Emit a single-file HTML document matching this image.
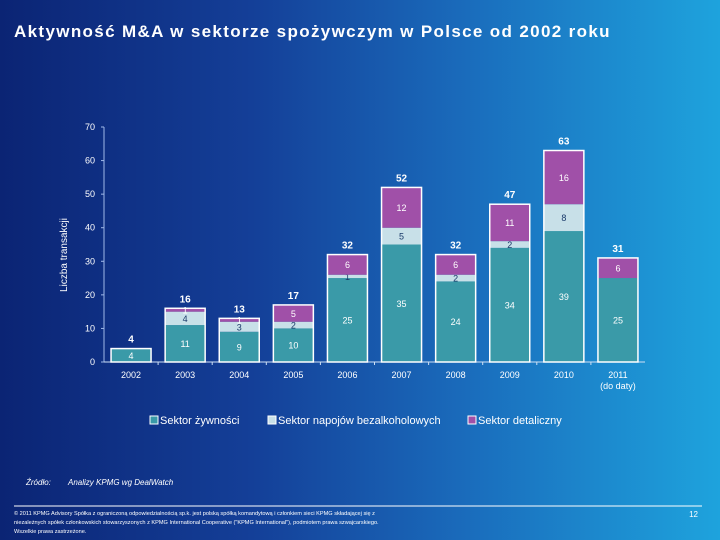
<!DOCTYPE html>
<html><head><meta charset="utf-8"><style>
body{margin:0;width:720px;height:540px;overflow:hidden;font-family:"Liberation Sans",sans-serif;}
#bg{position:absolute;left:0;top:0;width:720px;height:540px;background:linear-gradient(90deg,#0b2474 0%,#143f98 35%,#1a6cbc 65%,#1ea3dd 100%);}
</style></head><body>
<div id="bg"></div>
<svg id="chart" width="720" height="540" style="position:absolute;left:0;top:0">
<text x="14" y="37" fill="#fff" font-size="17" font-weight="bold" letter-spacing="1.35">Aktywność M&amp;A w sektorze spożywczym w Polsce od 2002 roku</text>
<text transform="translate(67,255) rotate(-90)" text-anchor="middle" fill="#fff" font-size="10">Liczba transakcji</text>
<g id="axes"></g><g id="bars"></g>
<g font-size="11" fill="#fff">
<rect x="150" y="416" width="8" height="8" fill="#3a9aa8" stroke="#fff" stroke-width="1"/>
<text x="160" y="424" fill="#fff">Sektor żywności</text>
<rect x="268" y="416" width="8" height="8" fill="#c8e0e8" stroke="#fff" stroke-width="1"/>
<text x="278" y="424" fill="#fff">Sektor napojów bezalkoholowych</text>
<rect x="468" y="416" width="8" height="8" fill="#a050a8" stroke="#fff" stroke-width="1"/>
<text x="478" y="424" fill="#fff">Sektor detaliczny</text>
</g>
<text x="26" y="485" fill="#fff" font-size="8" font-style="italic">Źródło:</text>
<text x="68" y="485" fill="#fff" font-size="8" font-style="italic">Analizy KPMG wg DealWatch</text>
<line x1="14" y1="506" x2="702" y2="506" stroke="#fff" stroke-width="1"/>
<g fill="#fff" font-size="5.6">
<text x="14" y="515">© 2011 KPMG Advisory Spółka z ograniczoną odpowiedzialnością sp.k. jest polską spółką komandytową i członkiem sieci KPMG składającej się z</text>
<text x="14" y="524">niezależnych spółek członkowskich stowarzyszonych z KPMG International Cooperative ("KPMG International"), podmiotem prawa szwajcarskiego.</text>
<text x="14" y="533">Wszelkie prawa zastrzeżone.</text>
</g>
<text x="698" y="517" fill="#fff" font-size="8" text-anchor="end">12</text>
</svg>
<script>
const categories=["2002","2003","2004","2005","2006","2007","2008","2009","2010","2011"];
const food=[4,11,9,10,25,35,24,34,39,25];
const beverages=[0,4,3,2,1,5,2,2,8,0];
const retail=[0,1,1,5,6,12,6,11,16,6];
const totals=[4,16,13,17,32,52,32,47,63,31];
const yTicks=[0,10,20,30,40,50,60,70];
const NS="http://www.w3.org/2000/svg";
const x0=104,x1=645,y0=362,yTop=127,yMax=70;
const band=(x1-x0)/categories.length;
const xC=i=>x0+band*(i+0.5);
const y=v=>y0-(v/yMax)*(y0-yTop);
const axes=document.getElementById('axes'),bars=document.getElementById('bars');
function mk(tag,attrs,parent,txt){const e=document.createElementNS(NS,tag);for(const k in attrs)e.setAttribute(k,attrs[k]);if(txt!==undefined)e.textContent=txt;parent.appendChild(e);return e;}
let e=mk('line',{x1:x0,y1:yTop,x2:x0,y2:y0,stroke:'#9fb8e8','stroke-width':1},axes);


e=mk('line',{x1:x0,y1:y0,x2:x1,y2:y0,stroke:'#cfe0f5','stroke-width':1},axes);


yTicks.forEach(t=>{
  mk('line',{x1:x0-3,y1:y(t),x2:x0,y2:y(t),stroke:'#9fb8e8'},axes);
  const l=mk('text',{x:x0-9,y:y(t)+3,fill:'#fff','font-size':9,'text-anchor':'end'},axes,String(t));
  
  
});
categories.forEach((c,i)=>{
  if(i>0) mk('line',{x1:x0+band*i,y1:y0,x2:x0+band*i,y2:y0+3,stroke:'#cfe0f5'},axes);
  const l=mk('text',{x:xC(i),y:y0+16,fill:'#fff','font-size':9,'text-anchor':'middle'},axes,c);
  
  
  if(i===categories.length-1){const l2=mk('text',{x:xC(i),y:y0+27,fill:'#fff','font-size':9,'text-anchor':'middle'},axes,'(do daty)');
  
  }
  const w=40,bx=xC(i)-w/2;
  const segs=[[food[i],'#3a9aa8','#fff','food'],[beverages[i],'#c8e0e8','#1a3a6a','beverages'],[retail[i],'#a050a8','#fff','retail']];
  let base=0;
  segs.forEach(([v,col,tc,nm])=>{
    if(v<=0)return;
    const r=mk('rect',{x:bx,y:y(base+v),width:w,height:y(base)-y(base+v),fill:col},bars);
    
    
    const t=mk('text',{x:xC(i),y:(y(base)+y(base+v))/2+3.5,fill:tc,'font-size':9,'text-anchor':'middle'},bars,String(v));
    
    
    base+=v;
  });
  const st=food[i]+beverages[i]+retail[i];
  const o=mk('rect',{x:bx,y:y(st),width:w,height:y0-y(st),fill:'none',stroke:'#fff','stroke-width':1.5},bars);
  
  
  const tl=mk('text',{x:xC(i),y:y(st)-6,fill:'#fff','font-size':10,'font-weight':'bold','text-anchor':'middle'},bars,String(totals[i]));
  
  
});
</script>
</body></html>
